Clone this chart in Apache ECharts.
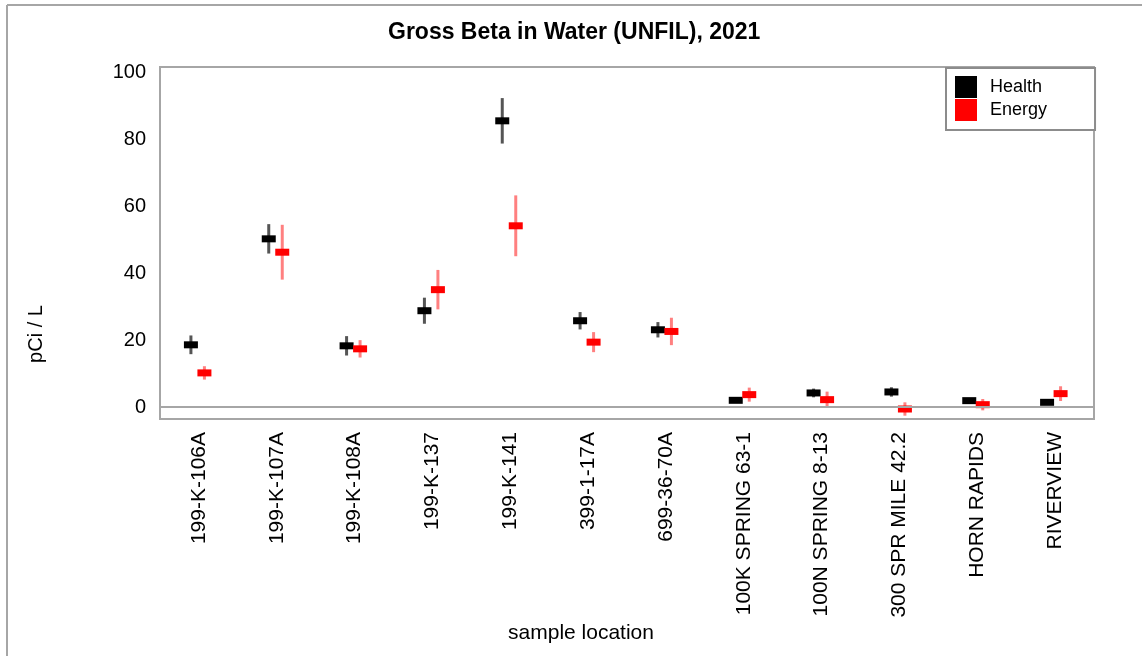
<!DOCTYPE html>
<html>
<head>
<meta charset="utf-8">
<script src="https://cdn.jsdelivr.net/npm/echarts@6/dist/echarts.min.js"></script>
<style>
  html, body { margin: 0; padding: 0; background: #fff; }
  #chart { width: 1142px; height: 656px; }
</style>
</head>
<body>
<div id="chart"></div>
<script>
// sample locations along the x axis
var locations = ['199-K-106A', '199-K-107A', '199-K-108A', '199-K-137', '199-K-141', '399-1-17A',
  '699-36-70A', '100K SPRING 63-1', '100N SPRING 8-13', '300 SPR MILE 42.2', 'HORN RAPIDS', 'RIVERVIEW'];

// pCi/L results and their +/- uncertainty
var health = [18.6, 50.3, 18.3, 28.8, 85.6, 25.8, 23.1, 2.0, 4.2, 4.5, 1.9, 1.4];
var healthErr = [2.8, 4.4, 2.9, 3.9, 6.8, 2.6, 2.3, 0.6, 1.3, 1.4, 0.5, 0.5];
var energy = [10.2, 46.3, 17.4, 35.1, 54.2, 19.4, 22.6, 3.7, 2.2, -0.6, 0.7, 4.0];
var energyErr = [2.0, 8.2, 2.6, 5.9, 9.1, 3.0, 4.1, 2.1, 2.4, 2.0, 1.7, 2.2];

var yTicks = [0, 20, 40, 60, 80, 100];

var frameColor = '#a6a6a6';
var font = 'Liberation Sans, Arial, sans-serif';

function toData(vals, errs) {
  return vals.map(function (v, i) { return [i, v, errs[i]]; });
}

// error bar + small rectangle, shifted sideways so the two groups sit next to each other
function errorMark(dx, barColor, fill) {
  return function (params, api) {
    var i = api.value(0), v = api.value(1), e = api.value(2);
    var c = api.coord([i, v]);
    var hi = api.coord([i, v + e]);
    var lo = api.coord([i, v - e]);
    var x = c[0] + dx;
    return {
      type: 'group',
      children: [
        { type: 'line', shape: { x1: x, y1: hi[1], x2: x, y2: lo[1] }, style: { stroke: barColor, lineWidth: 3 } },
        { type: 'rect', shape: { x: x - 7, y: c[1] - 3.5, width: 14, height: 7 }, style: { fill: fill } }
      ]
    };
  };
}

var chart = echarts.init(document.getElementById('chart'));
chart.setOption({
  backgroundColor: '#fff',
  animation: false,
  textStyle: { fontFamily: font },
  title: {
    text: 'Gross Beta in Water (UNFIL), 2021',
    left: 388,
    top: 21,
    padding: 0,
    textStyle: { fontSize: 23, fontWeight: 'bold', color: '#000', fontFamily: font }
  },
  legend: {
    data: ['Health', 'Energy'],
    orient: 'vertical',
    left: 946,
    top: 68,
    icon: 'rect',
    itemWidth: 22,
    itemHeight: 22,
    itemGap: 1,
    padding: [8, 48, 9, 9],
    backgroundColor: '#fff',
    borderColor: '#8c8c8c',
    borderWidth: 2,
    textStyle: { fontSize: 18, color: '#000', padding: [0, 0, 0, 8] }
  },
  grid: {
    left: 160,
    right: 48,
    top: 67,
    bottom: 237,
    show: true,
    borderColor: frameColor,
    borderWidth: 2,
    backgroundColor: '#fff'
  },
  xAxis: {
    type: 'category',
    data: locations,
    axisLine: { show: false },
    axisTick: { alignWithLabel: true, length: 9, lineStyle: { color: frameColor, width: 2 } },
    axisLabel: { rotate: 90, interval: 0, fontSize: 21, color: '#000', margin: 13 }
  },
  yAxis: {
    type: 'value',
    min: -3.59,
    max: 101.7,
    axisLine: { show: false },
    splitLine: { show: false },
    axisTick: { customValues: yTicks, length: 8, lineStyle: { color: frameColor, width: 2 } },
    axisLabel: { customValues: yTicks, fontSize: 20, color: '#000', margin: 14 }
  },
  graphic: [
    { type: 'line', shape: { x1: 7, y1: 5, x2: 1142, y2: 5 }, style: { stroke: frameColor, lineWidth: 2 } },
    { type: 'line', shape: { x1: 7, y1: 5, x2: 7, y2: 656 }, style: { stroke: frameColor, lineWidth: 2 } },
    {
      type: 'text', x: 36, y: 334, rotation: Math.PI / 2,
      style: { text: 'pCi / L', fontSize: 20, fill: '#000', fontFamily: font, textAlign: 'center', textVerticalAlign: 'middle' }
    },
    {
      type: 'text', x: 581, y: 633,
      style: { text: 'sample location', fontSize: 21, fill: '#000', fontFamily: font, textAlign: 'center', textVerticalAlign: 'middle' }
    }
  ],
  series: [
    {
      name: 'Health',
      type: 'custom',
      itemStyle: { color: '#000' },
      renderItem: errorMark(-8, '#555555', '#000'),
      encode: { x: 0, y: 1 },
      data: toData(health, healthErr),
      markLine: {
        silent: true,
        symbol: 'none',
        label: { show: false },
        lineStyle: { color: frameColor, width: 2, type: 'solid' },
        data: [{ yAxis: 0 }]
      },
      z: 3
    },
    {
      name: 'Energy',
      type: 'custom',
      itemStyle: { color: '#ff0000' },
      renderItem: errorMark(5.5, '#ff8080', '#ff0000'),
      encode: { x: 0, y: 1 },
      data: toData(energy, energyErr),
      z: 4
    }
  ]
});
</script>
</body>
</html>
